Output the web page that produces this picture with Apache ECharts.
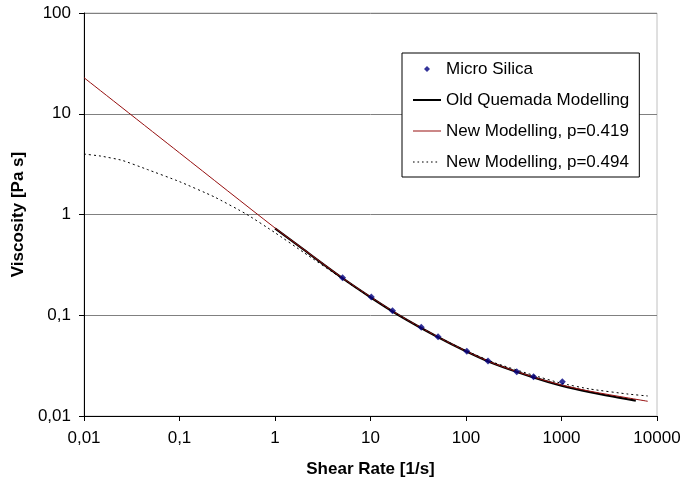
<!DOCTYPE html>
<html><head><meta charset="utf-8">
<script src="https://cdn.jsdelivr.net/npm/echarts@6/dist/echarts.min.js"></script>
<style>html,body{margin:0;padding:0;background:#fff}#c{width:682px;height:479px}</style>
</head><body><div id="c"></div>
<script>
// Tick labels (comma decimal, as in reference)
const xTickLabels = ['0,01', '0,1', '1', '10', '100', '1000', '10000'];
const yTickLabels = ['0,01', '0,1', '1', '10', '100'];

// Measured data: Micro Silica
const silicaShear = [5.1, 10.2, 17, 34, 51, 102, 170, 340, 510, 1020];
const silicaVisc  = [0.236, 0.152, 0.111, 0.0759, 0.0612, 0.0439, 0.0351, 0.0275, 0.0245, 0.0219];

// Old Quemada Modelling
const quemadaShear = [1, 2, 5, 10, 20, 50, 100, 200, 500, 1000, 2000, 4000, 6000];
const quemadaVisc  = [0.73, 0.447, 0.236, 0.151, 0.0995, 0.0612, 0.044, 0.0328, 0.0243, 0.0200, 0.0172, 0.0152, 0.0142];

// New Modelling, p=0.419
const new419Shear = [0.01, 0.1, 1, 2, 5, 10, 20, 50, 100, 200, 500, 1000, 2000, 5000, 8000];
const new419Visc  = [22.8, 4.09, 0.735, 0.45, 0.237, 0.152, 0.100, 0.0615, 0.0442, 0.0330, 0.0245, 0.0203, 0.0176, 0.0151, 0.0140];

// New Modelling, p=0.494
const new494Shear = [0.01, 0.015, 0.025, 0.045, 0.1, 0.23, 0.5, 1, 2, 5, 10, 20, 50, 100, 200, 500, 1000, 2000, 5000, 8000];
const new494Visc  = [3.98, 3.8, 3.45, 2.82, 2.12, 1.5, 1.01, 0.66, 0.42, 0.232, 0.150, 0.099, 0.0615, 0.0445, 0.0337, 0.0255, 0.0211, 0.0185, 0.0165, 0.0158];

const zip = (a, b) => a.map((v, i) => [v, b[i]]);
const FONT = 'Liberation Sans, Arial, sans-serif';

// Legend icon shapes (box 28x14 kept by leading moveTo points)
const ICON_BOX = 'M0,0M28,14';
const iconDiamond = 'path://' + ICON_BOX + 'M14,4L17,7L14,10L11,7Z';
const iconThick = 'path://' + ICON_BOX + 'M0,6L28,6L28,8L0,8Z';
const iconThin = 'path://' + ICON_BOX + 'M0,6.5L28,6.5L28,7.5L0,7.5Z';
let dots = '';
for (let x = 0; x < 27; x += 4.5) dots += 'M' + x + ',6.5L' + (x + 1.6) + ',6.5L' + (x + 1.6) + ',7.5L' + x + ',7.5Z';
const iconDotted = 'path://' + ICON_BOX + dots;

const chart = echarts.init(document.getElementById('c'), null, {renderer: 'canvas'});
chart.setOption({
  animation: false,
  backgroundColor: '#fff',
  grid: {left: 84, right: 25, top: 13, bottom: 63, outerBoundsMode: 'none', containLabel: false,
    show: true, borderColor: '#c0c0c0', borderWidth: 1, backgroundColor: 'transparent'},
  xAxis: {
    type: 'log', logBase: 10, min: 0.01, max: 10000,
    name: 'Shear Rate [1/s]', nameLocation: 'middle', nameGap: 45,
    nameTextStyle: {fontFamily: FONT, fontSize: 17, fontWeight: 'bold', color: '#000'},
    axisLine: {onZero: false, lineStyle: {color: '#000', width: 1}},
    axisTick: {show: true, inside: false, length: 5, lineStyle: {color: '#000'}},
    axisLabel: {margin: 14, fontFamily: FONT, fontSize: 17, color: '#000',
      formatter: v => xTickLabels[Math.round(Math.log10(v)) + 2]},
    splitLine: {show: false}
  },
  yAxis: {
    type: 'log', logBase: 10, min: 0.01, max: 100,
    name: 'Viscosity [Pa s]', nameLocation: 'middle', nameGap: 41,
    nameTextStyle: {fontFamily: FONT, fontSize: 17, fontWeight: 'bold', color: '#000'},
    axisLine: {show: true, onZero: false, lineStyle: {color: '#000', width: 1}},
    axisTick: {show: true, inside: false, length: 5, lineStyle: {color: '#000'}},
    axisLabel: {margin: 13, fontFamily: FONT, fontSize: 17, color: '#000',
      formatter: v => yTickLabels[Math.round(Math.log10(v)) + 2]},
    splitLine: {show: true, lineStyle: {color: '#808080', width: 1}}
  },
  legend: {
    orient: 'vertical', left: 402, top: 53,
    padding: [6, 10, 5, 11], itemGap: 11, itemWidth: 28, itemHeight: 14,
    borderColor: '#000', borderWidth: 1, backgroundColor: '#fff',
    textStyle: {fontFamily: FONT, fontSize: 17, color: '#000', lineHeight: 20},
    data: [
      {name: 'Micro Silica', icon: iconDiamond},
      {name: 'Old Quemada Modelling', icon: iconThick},
      {name: 'New Modelling, p=0.419', icon: iconThin},
      {name: 'New Modelling, p=0.494', icon: iconDotted}
    ]
  },
  series: [
    {
      name: 'Old Quemada Modelling', type: 'line', data: zip(quemadaShear, quemadaVisc),
      showSymbol: false, symbol: 'none', smooth: 0.3, z: 2,
      lineStyle: {color: '#000', width: 2.2}, itemStyle: {color: '#000'}
    },
    {
      name: 'New Modelling, p=0.419', type: 'line', data: zip(new419Shear, new419Visc),
      showSymbol: false, symbol: 'none', smooth: 0.3, z: 3,
      lineStyle: {color: '#960f0f', width: 1}, itemStyle: {color: '#960f0f'}
    },
    {
      name: 'New Modelling, p=0.494', type: 'line', data: zip(new494Shear, new494Visc),
      showSymbol: false, symbol: 'none', smooth: 0.15, z: 4,
      lineStyle: {color: '#000', width: 1, type: [2, 3]}, itemStyle: {color: '#000'}
    },
    {
      name: 'Micro Silica', type: 'scatter', data: zip(silicaShear, silicaVisc),
      symbol: 'diamond', symbolSize: 7, z: 5,
      itemStyle: {color: '#000080'}
    }
  ]
});
</script>
</body></html>
